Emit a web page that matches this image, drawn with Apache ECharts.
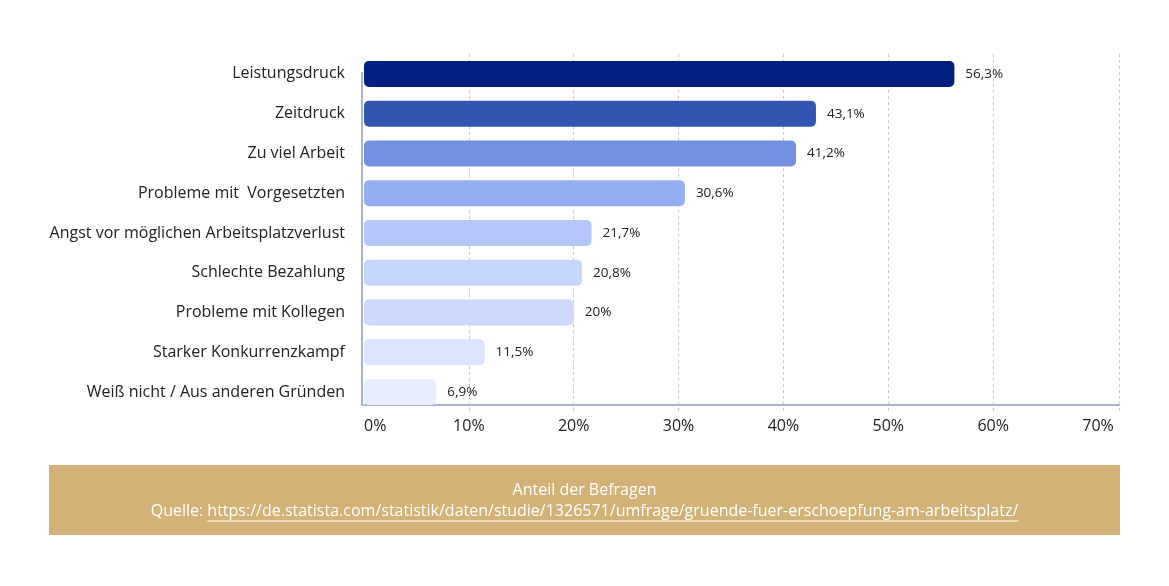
<!DOCTYPE html>
<html>
<head>
<meta charset="utf-8">
<script src="https://cdn.jsdelivr.net/npm/echarts@6/dist/echarts.min.js"></script>
<style>
html,body{margin:0;padding:0;background:#fff;}
#chart{width:1169px;height:586px;}
</style>
</head>
<body>
<div id="chart"></div>
<script>
const categories = [
  "Leistungsdruck",
  "Zeitdruck",
  "Zu viel Arbeit",
  "Probleme mit  Vorgesetzten",
  "Angst vor möglichen Arbeitsplatzverlust",
  "Schlechte Bezahlung",
  "Probleme mit Kollegen",
  "Starker Konkurrenzkampf",
  "Weiß nicht / Aus anderen Gründen"
];
const values = [56.3, 43.1, 41.2, 30.6, 21.7, 20.8, 20, 11.5, 6.9];
const barColors = ["#012082", "#3156b2", "#7391e0", "#95aef3", "#b6c8fa", "#c7d6fb", "#cddafc", "#dbe4fd", "#e8eefd"];
const tickValues = [0, 10, 20, 30, 40, 50, 60, 70];
const footerTitle = "Anteil der Befragen";
const footerPrefix = "Quelle: ";
const footerUrl = "https://de.statista.com/statistik/daten/studie/1326571/umfrage/gruende-fuer-erschoepfung-am-arbeitsplatz/";

const FONT = "'Open Sans', 'Noto Sans', sans-serif";
const chart = echarts.init(document.getElementById('chart'), null, {renderer: 'canvas'});

const ctx = document.createElement('canvas').getContext('2d');
ctx.font = "16px 'Open Sans'";
const wPrefix = ctx.measureText(footerPrefix).width;
const wUrl = ctx.measureText(footerUrl).width;
const totalW = wPrefix + wUrl;
const cx = 584.5;
const startX = cx - totalW / 2;

const gridColor = '#c9c9d6';
const axisColor = '#a9b3d5';
const splitColors = tickValues.map(v => (v === 70 || v === 0) ? 'rgba(0,0,0,0)' : gridColor).concat([gridColor]);

chart.setOption({
  backgroundColor: '#ffffff',
  animation: false,
  grid: [
    {left: 364, right: 50, top: 54, height: 358, containLabel: false},
    {left: 362, right: 50, top: 73, height: 332, containLabel: false}
  ],
  xAxis: [{
    type: 'value', min: 0, max: 72, interval: 10, gridIndex: 0,
    offset: -7,
    axisLine: {show: true, lineStyle: {color: axisColor, width: 2}},
    axisTick: {show: false},
    splitLine: {show: true, lineStyle: {type: [3, 3], color: splitColors, width: 1}},
    axisLabel: {
      margin: 13, fontFamily: FONT, fontSize: 16, color: '#222',
      formatter: v => tickValues.indexOf(v) >= 0 ? v + '%' : '',
      showMaxLabel: false,
      alignMinLabel: 'left'
    }
  }, {
    type: 'value', gridIndex: 1, show: false, min: 0, max: 1
  }],
  yAxis: [{
    type: 'category', data: categories, inverse: true, gridIndex: 0,
    axisLine: {show: false},
    axisTick: {show: false},
    axisLabel: {margin: 19, fontFamily: FONT, fontSize: 16, color: '#222'}
  }, {
    type: 'value', gridIndex: 1, min: 0, max: 1,
    axisLine: {show: true, lineStyle: {color: axisColor, width: 2}},
    axisTick: {show: false}, axisLabel: {show: false}, splitLine: {show: false}
  }],
  series: [{
    type: 'bar',
    xAxisIndex: 0, yAxisIndex: 0,
    data: values.map((v, i) => ({value: v, itemStyle: {color: barColors[i]}})),
    barWidth: 26,
    itemStyle: {borderRadius: 5},
    label: {
      show: true, position: 'right', distance: 11,
      fontFamily: FONT, fontSize: 13.5, color: '#222',
      formatter: p => String(p.value).replace('.', ',') + '%'
    }
  }],
  graphic: [
    {type: 'rect', left: 49, top: 465, shape: {width: 1071, height: 70}, style: {fill: '#d2b277'}, z: 0},
    {type: 'text', x: cx, y: 490, style: {text: footerTitle, fill: '#ffffff', font: "16px 'Open Sans'", textAlign: 'center', textVerticalAlign: 'middle'}, z: 1},
    {type: 'text', x: startX, y: 511, style: {text: footerPrefix + footerUrl, fill: '#ffffff', font: "16px 'Open Sans'", textAlign: 'left', textVerticalAlign: 'middle'}, z: 1},
    {type: 'line', shape: {x1: startX + wPrefix, y1: 521, x2: startX + totalW, y2: 521}, style: {stroke: '#ffffff', lineWidth: 1}, z: 1}
  ]
});
</script>
</body>
</html>
